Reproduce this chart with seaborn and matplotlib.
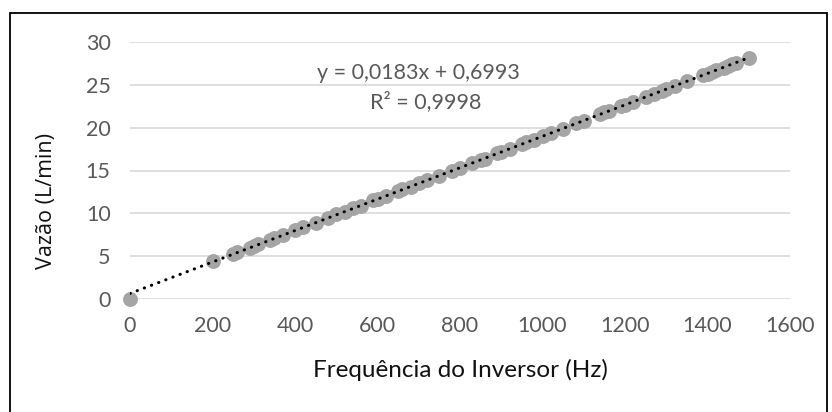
import numpy as np
import pandas as pd
import seaborn as sns
from matplotlib import pyplot as plt
from matplotlib.patches import Rectangle

# leituras: frequencia do inversor (Hz) x vazao (L/min)
freq = [0, 200, 250, 260, 290, 300, 310, 340, 350, 370, 400, 420, 450, 480, 500,
        520, 540, 560, 590, 600, 620, 650, 660, 680, 700, 720, 750, 780, 800, 830,
        850, 860, 890, 900, 920, 950, 960, 980, 1000, 1020, 1050, 1080, 1100, 1140,
        1150, 1160, 1190, 1200, 1220, 1250, 1270, 1290, 1300, 1320, 1350, 1390,
        1400, 1410, 1420, 1440, 1450, 1460, 1470, 1500]
vazao = [0.0, 4.4, 5.3, 5.5, 6.0, 6.2, 6.4, 6.9, 7.1, 7.5, 8.0, 8.4, 8.9, 9.5, 9.9,
         10.2, 10.6, 10.9, 11.5, 11.7, 12.0, 12.6, 12.8, 13.1, 13.5, 13.9, 14.4,
         15.0, 15.3, 15.9, 16.2, 16.4, 17.0, 17.2, 17.5, 18.1, 18.3, 18.6, 19.0,
         19.4, 19.9, 20.5, 20.8, 21.6, 21.8, 21.9, 22.5, 22.7, 23.0, 23.6, 23.9,
         24.3, 24.5, 24.9, 25.4, 26.1, 26.3, 26.5, 26.7, 27.0, 27.2, 27.4, 27.6, 28.1]
x_ticks = [0, 200, 400, 600, 800, 1000, 1200, 1400, 1600]
y_ticks = [0, 5, 10, 15, 20, 25, 30]
equacao = "y = 0,0183x + 0,6993"
r2 = "R² = 0,9998"

df = pd.DataFrame({"freq": freq, "vazao": vazao})

sns.set_theme(style="white")
plt.rcParams['font.family'] = ['Lato', 'DejaVu Sans']

fig = plt.figure(figsize=(8.32, 4.12), dpi=100)
ax = fig.add_axes([130 / 832, 1 - 299 / 412, 660 / 832, 257 / 412])

sns.regplot(data=df, x="freq", y="vazao", ax=ax, ci=None,
            scatter_kws=dict(s=115, color="#a5a5a5", alpha=1, linewidths=0, zorder=3),
            line_kws=dict(color="black", lw=2.2, linestyle=(0, (0.1, 2.4)),
                          dash_capstyle="round", zorder=4))

ax.set_xlim(0, 1600)
ax.set_ylim(0, 30)
ax.set_xticks(x_ticks)
ax.set_yticks(y_ticks)
ax.grid(axis="y", color="#d9d9d9", lw=1.2)
ax.grid(axis="x", visible=False)
ax.set_axisbelow(True)
sns.despine(ax=ax, left=True, bottom=True)
ax.tick_params(axis="both", length=0, labelsize=15.5, labelcolor="#595959")
ax.tick_params(axis="x", pad=12)
ax.tick_params(axis="y", pad=14)
for c in ax.collections:
    c.set_clip_on(False)

ax.set_xlabel("Frequência do Inversor (Hz)", fontsize=17.5, color="#111111")
ax.xaxis.set_label_coords(0.5, -0.275)
ax.xaxis.label.set_va("center")
ax.set_ylabel("Vazão (L/min)", fontsize=15.5, color="#111111", family=["Open Sans", "DejaVu Sans"])
ax.yaxis.set_label_coords(-0.126, 0.38)
ax.yaxis.label.set_va("center")

ax.text((418 - 130) / 660, (299 - 73) / 257, equacao, transform=ax.transAxes,
        ha="center", va="center", fontsize=15.5, color="#595959")
ax.text((426 - 130) / 660, (299 - 102) / 257, r2, transform=ax.transAxes,
        ha="center", va="center", fontsize=15.5, color="#595959")

fig.patches.append(Rectangle((9.5 / 832, -0.05), 817 / 832, 1.05 - 12.5 / 412,
                             transform=fig.transFigure, fill=False,
                             edgecolor="black", lw=1.3))

fig.savefig("out.png", dpi=100)
